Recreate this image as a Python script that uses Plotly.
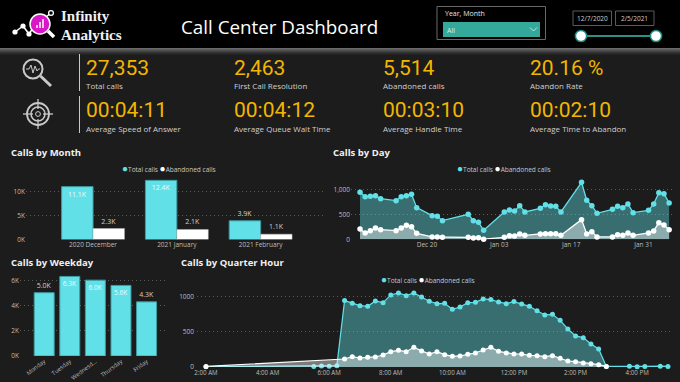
import plotly.graph_objects as go

W, H = 680, 382
FONT = "Open Sans"
CYAN = "#62E0E8"
WHITE = "#FFFFFF"
BG = "#1C1C1C"
YEL = "#F2B600"
TICK = "#BDBDBD"
GRID = "#5A5A5A"

# ---- data ----
kpi_values = ["27,353", "2,463", "5,514", "20.16 %", "00:04:11", "00:04:12", "00:03:10", "00:02:10"]
kpi_labels = ["Total calls", "First Call Resolution", "Abandoned calls", "Abandon Rate",
              "Average Speed of Answer", "Average Queue Wait Time", "Average Handle Time", "Average Time to Abandon"]

months = ["2020 December", "2021 January", "2021 February"]
month_total = [11060, 12380, 3913]
month_aband = [2300, 2100, 1114]
month_total_lbl = ["11.1K", "12.4K", "3.9K"]
month_aband_lbl = ["2.3K", "2.1K", "1.1K"]

weekdays = ["Monday", "Tuesday", "Wednesd...", "Thursday", "Friday"]
weekday_total = [5040, 6340, 6040, 5620, 4310]
weekday_lbl = ["5.0K", "6.3K", "6.0K", "5.6K", "4.3K"]

days = ["2020-12-07", "2020-12-08", "2020-12-09", "2020-12-10", "2020-12-11",
        "2020-12-14", "2020-12-15", "2020-12-16", "2020-12-17", "2020-12-18",
        "2020-12-21", "2020-12-22", "2020-12-23",
        "2020-12-28", "2020-12-29", "2020-12-30", "2020-12-31",
        "2021-01-04", "2021-01-05", "2021-01-06", "2021-01-07", "2021-01-08",
        "2021-01-11", "2021-01-12", "2021-01-13", "2021-01-14", "2021-01-15",
        "2021-01-19", "2021-01-20", "2021-01-21", "2021-01-22",
        "2021-01-25", "2021-01-26", "2021-01-27", "2021-01-28", "2021-01-29",
        "2021-02-01", "2021-02-02", "2021-02-03", "2021-02-04", "2021-02-05"]
day_total = [940, 853, 860, 873, 813, 773, 853, 873, 900, 633, 473, 460, 373,
             500, 373, 340, 180, 547, 587, 567, 673, 547, 620, 693, 667, 660, 547,
             1140, 780, 673, 520, 600, 660, 633, 707, 533, 580, 707, 933, 913, 727]
day_aband = [207, 127, 173, 227, 193, 173, 227, 280, 253, 120, 47, 47, 40,
             40, 27, 33, 3, 40, 73, 67, 107, 80, 107, 113, 113, 113, 80,
             393, 107, 153, 47, 47, 93, 80, 127, 80, 127, 167, 333, 287, 193]
day_ticks = ["2020-12-20", "2021-01-03", "2021-01-17", "2021-01-31"]
day_ticktext = ["Dec 20", "Jan 03", "Jan 17", "Jan 31"]

q_total_t = ["02:00", "05:30", "05:45", "06:00", "06:15", "06:30", "06:45", "07:00", "07:15", "07:30", "07:45",
             "08:00", "08:15", "08:30", "08:45", "09:00", "09:15", "09:30", "09:45", "10:00", "10:15", "10:30",
             "10:45", "11:00", "11:15", "11:30", "11:45", "12:00", "12:15", "12:30", "12:45", "13:00", "13:15",
             "13:30", "13:45", "14:00", "14:15", "14:30", "14:45", "15:00", "15:45", "16:00", "16:15", "16:45", "17:00"]
q_total = [2, 8, 14, 12, 19, 939, 901, 868, 858, 934, 910,
           1019, 1047, 1009, 1047, 991, 930, 896, 901, 816, 849, 910,
           915, 962, 953, 920, 896, 925, 892, 858, 797, 736, 745,
           660, 538, 439, 415, 325, 255, 8, 10, 5, 8, 12, 8]
q_aband_t = ["02:00", "06:30", "06:45", "07:00", "07:15", "07:30", "07:45",
             "08:00", "08:15", "08:30", "08:45", "09:00", "09:15", "09:30", "09:45", "10:00", "10:15", "10:30",
             "10:45", "11:00", "11:15", "11:30", "11:45", "12:00", "12:15", "12:30", "12:45", "13:00", "13:15",
             "13:30", "13:45", "14:00", "14:15", "14:30", "14:45", "15:00"]
q_aband = [8, 113, 146, 127, 137, 142, 170,
           217, 236, 217, 278, 226, 184, 217, 175, 151, 156, 179,
           198, 241, 278, 222, 198, 184, 184, 165, 160, 146, 160,
           123, 85, 75, 57, 47, 33, 8]
q_ticks = ["02:00", "04:00", "06:00", "08:00", "10:00", "12:00", "14:00", "16:00"]
q_ticktext = ["2:00 AM", "4:00 AM", "6:00 AM", "8:00 AM", "10:00 AM", "12:00 PM", "2:00 PM", "4:00 PM"]
DAY0 = "2021-01-01 "


def X(p): return p / W
def Y(p): return 1 - p / H
def dx(a, b): return [a / W, b / W]
def dy(top, bottom): return [1 - bottom / H, 1 - top / H]


shapes, annos = [], []


def rect(x0, y0, x1, y1, fill=None, line=None, lw=1, layer="below"):
    shapes.append(dict(type="rect", xref="paper", yref="paper", x0=X(x0), x1=X(x1), y0=Y(y0), y1=Y(y1),
                       fillcolor=fill, line=dict(color=line, width=lw if line else 0), layer=layer))


def seg(x0, y0, x1, y1, color, lw=1, layer="above"):
    shapes.append(dict(type="line", xref="paper", yref="paper", x0=X(x0), x1=X(x1), y0=Y(y0), y1=Y(y1),
                       line=dict(color=color, width=lw), layer=layer))


def circ(cx, cy, r, fill=None, line=None, lw=1, layer="above"):
    shapes.append(dict(type="circle", xref="paper", yref="paper", x0=X(cx - r), x1=X(cx + r), y0=Y(cy + r), y1=Y(cy - r),
                       fillcolor=fill, line=dict(color=line, width=lw if line else 0), layer=layer))


def text(x, y, s, size, color, family=FONT, anchor="left", bold=False):
    annos.append(dict(xref="paper", yref="paper", x=X(x), y=Y(y), text=f"<b>{s}</b>" if bold else s,
                      showarrow=False, xanchor=anchor, yanchor="middle",
                      font=dict(size=size, color=color, family=family), borderpad=0, borderwidth=0))


# page chrome
rect(0, 0, W, H, fill=BG)
rect(0, 0, W, 48, fill="#000000")
for i, c in enumerate(["#6A6A6A", "#5C5C5C", "#4E4E4E", "#404040", "#343434", "#2A2A2A", "#232323"]):
    rect(0, 48 + i, W, 49 + i, fill=c)

# logo
seg(15, 32, 23, 26, WHITE, 1.5); seg(23, 26, 29, 34, WHITE, 1.5); seg(29, 34, 33, 28, WHITE, 1.5)
seg(46, 17, 51, 13, WHITE, 1.5)
for cx, cy in [(15, 32), (23, 26), (29, 34)]:
    circ(cx, cy, 2.6, fill=WHITE)
circ(51, 13, 2.4, fill="#000000", line=WHITE, lw=1.3)
seg(48, 31, 54, 37, WHITE, 3.5)
circ(40, 24, 10, fill="#D916C8", line=WHITE, lw=1.5)
rect(36, 25, 38, 28, fill="#F4C7E8", layer="above")
rect(39, 22, 41, 28, fill="#F4C7E8", layer="above")
rect(42, 19, 44, 28, fill="#F4C7E8", layer="above")
text(61, 16, "Infinity", 15, "#F0F0F0", family="Liberation Serif", bold=True)
text(61, 34, "Analytics", 15.2, "#F0F0F0", family="Liberation Serif", bold=True)
text(181, 27, "Call Center Dashboard", 18.8, "#FFFFFF")

# slicer
rect(437, 6.5, 545.5, 39.5, line="#6A6A6A", lw=1)
text(445, 14, "Year, Month", 7, "#E6E6E6", bold=False)
rect(443, 22, 540, 37, fill="#33A89B")
text(447, 30.5, "All", 7, "#D8EEEB")
seg(530, 27.5, 533.5, 31, "#E6F5F3", 0.8); seg(533.5, 31, 537, 27.5, "#E6F5F3", 0.8)
rect(573, 11, 611.5, 25.5, line="#5A5A5A", lw=1)
rect(615.5, 11, 654, 25.5, line="#5A5A5A", lw=1)
text(592.5, 18.5, "12/7/2020", 6.5, "#CFCFCF", anchor="center")
text(634.5, 18.5, "2/5/2021", 6.5, "#CFCFCF", anchor="center")
seg(581, 36, 656, 36, "#2E8F86", 2)
circ(581, 36, 5.6, fill="#FFFFFF", line="#1E8C82", lw=1.5)
circ(656, 36, 5.6, fill="#FFFFFF", line="#1E8C82", lw=1.5)

# KPI icons
IC = "#C9C9C9"
seg(79.5, 54, 79.5, 91, "#C8C8C8", 1)
seg(79.5, 96, 79.5, 133, "#C8C8C8", 1)
circ(33, 69, 9.5, line=IC, lw=2)
seg(40.5, 76, 51, 86, IC, 3)
shapes.append(dict(type="path", xref="paper", yref="paper", layer="above", line=dict(color=IC, width=1),
                   path="M " + " L ".join(f"{X(a):.5f},{Y(b):.5f}" for a, b in
                                          [(26, 69), (29, 69), (31, 65), (33, 73), (35, 66), (37, 71), (38.5, 69), (40, 69)])))
circ(38, 114, 11, line=IC, lw=1.8)
circ(38, 114, 7, line=IC, lw=1.5)
circ(38, 114, 2.4, line=IC, lw=1)
seg(38, 99, 38, 109, IC, 1.3); seg(38, 119, 38, 129, IC, 1.3)
seg(23, 114, 33, 114, IC, 1.3); seg(43, 114, 53, 114, IC, 1.3)

# KPI text
kx = [86, 234, 382.5, 529.5]
for i, (v, l) in enumerate(zip(kpi_values, kpi_labels)):
    r, c = i // 4, i % 4
    text(kx[c], 67.5 + 42.5 * r, v, 21, YEL, family="Roboto")
    text(kx[c], 86 + 42.3 * r, l, 8, "#D0D0D0")

# section titles
text(11, 152, "Calls by Month", 9.5, "#F0F0F0", bold=True)
text(333, 152, "Calls by Day", 9.5, "#F0F0F0", bold=True)
text(11, 262, "Calls by Weekday", 9.5, "#F0F0F0", bold=True)
text(181, 262, "Calls by Quarter Hour", 9.5, "#F0F0F0", bold=True)

# legends
def legend(x, y):
    annos.append(dict(xref="paper", yref="paper", x=X(x), y=Y(y), showarrow=False, xanchor="center", yanchor="middle",
                      text=f"<span style='color:{CYAN};font-size:10px'>●</span>Total calls <span style='color:#fff;font-size:10px'>●</span>Abandoned calls",
                      font=dict(size=6.5, color="#C8C8C8", family=FONT)))


legend(169, 168)
legend(504, 168)
legend(428, 278.5)

LBL = 7
fig = go.Figure()
# month
fig.add_bar(x=months, y=month_total, text=month_total_lbl, name="Total calls", xaxis="x", yaxis="y",
            marker=dict(color=CYAN, line=dict(color="#3E9CA2", width=1)),
            textposition=["inside", "inside", "outside"], insidetextanchor="end", cliponaxis=False,
            textfont=dict(size=LBL, family=FONT, color=["#EAFBFC", "#EAFBFC", "#D0D0D0"]), textangle=0)
fig.add_bar(x=months, y=month_aband, text=month_aband_lbl, name="Abandoned calls", xaxis="x", yaxis="y",
            marker=dict(color=WHITE, line=dict(color="#B8B8B8", width=0.5)),
            textposition="outside", cliponaxis=False,
            textfont=dict(size=LBL, family=FONT, color="#D0D0D0"), textangle=0)
# weekday
fig.add_bar(x=weekdays, y=weekday_total, text=weekday_lbl, name="Total calls", xaxis="x2", yaxis="y2", width=0.78,
            marker=dict(color=CYAN, line=dict(color="#3E9CA2", width=1)),
            textposition=["outside", "inside", "inside", "inside", "outside"], insidetextanchor="end", cliponaxis=False,
            textfont=dict(size=LBL, family=FONT, color=["#D0D0D0", "#EAFBFC", "#EAFBFC", "#EAFBFC", "#D0D0D0"]), textangle=0)
# day
FILL_T = "rgba(98,224,232,0.42)"
FILL_A = "rgba(255,255,255,0.42)"
fig.add_scatter(x=days, y=day_total, mode="lines+markers", fill="tozeroy", fillcolor=FILL_T, name="Total calls",
                xaxis="x3", yaxis="y3", cliponaxis=False,
                line=dict(color=CYAN, width=1.3), marker=dict(color=CYAN, size=5.5))
fig.add_scatter(x=days, y=day_aband, mode="lines+markers", fill="tozeroy", fillcolor=FILL_A, name="Abandoned calls",
                xaxis="x3", yaxis="y3", cliponaxis=False,
                line=dict(color=WHITE, width=1.3), marker=dict(color=WHITE, size=5.5))
# quarter hour
fig.add_scatter(x=[DAY0 + t for t in q_total_t], y=q_total, mode="lines+markers", fill="tozeroy", fillcolor=FILL_T,
                name="Total calls", xaxis="x4", yaxis="y4", cliponaxis=False,
                line=dict(color=CYAN, width=1.2), marker=dict(color=CYAN, size=5))
fig.add_scatter(x=[DAY0 + t for t in q_aband_t], y=q_aband, mode="lines+markers", fill="tozeroy", fillcolor=FILL_A,
                name="Abandoned calls", xaxis="x4", yaxis="y4", cliponaxis=False,
                line=dict(color=WHITE, width=1.2), marker=dict(color=WHITE, size=5))

tick = dict(size=6.5, color=TICK, family=FONT)
yax = dict(showgrid=True, griddash="1px,3px", gridcolor=GRID, gridwidth=1, zeroline=False, showline=False,
           ticks="", tickfont=tick, fixedrange=True, automargin=False)
xax = dict(showgrid=False, zeroline=False, showline=False, ticks="", tickfont=tick, fixedrange=True, automargin=False)

fig.update_layout(
    width=W, height=H, margin=dict(l=0, r=0, t=0, b=0, pad=0), autosize=False,
    paper_bgcolor=BG, plot_bgcolor="rgba(0,0,0,0)", showlegend=False, barmode="group", bargap=0.25, bargroupgap=0,
    font=dict(family=FONT), shapes=shapes, annotations=annos,
    xaxis=dict(xax, domain=dx(26, 326), range=[-0.8, 2.78], anchor="y", type="category"),
    yaxis=dict(yax, domain=dy(178, 239.5), range=[0, 12870], anchor="x", tickvals=[0, 5000, 10000],
               ticktext=["0K", "5K", "10K"]),
    xaxis2=dict(xax, domain=dx(20, 165), range=[-0.945, 4.72], anchor="y2", type="category", tickangle=-37,
                tickfont=dict(tick, size=5.8)),
    yaxis2=dict(yax, domain=dy(275.5, 356), range=[0, 6410], anchor="x2", tickvals=[0, 2000, 4000, 6000],
                ticktext=["0K", "2K", "4K", "6K"]),
    xaxis3=dict(xax, domain=dx(351, 673), range=["2020-12-05 06:00", "2021-02-05 18:00"], anchor="y3", type="date",
                tickvals=day_ticks, ticktext=day_ticktext),
    yaxis3=dict(yax, domain=dy(180, 239.3), range=[0, 1186], anchor="x3", tickvals=[0, 500, 1000],
                ticktext=["0", "500", "1,000"]),
    xaxis4=dict(xax, domain=dx(197, 670), range=[DAY0 + "01:42:30", DAY0 + "17:04"], anchor="y4", type="date",
                tickvals=[DAY0 + t for t in q_ticks], ticktext=q_ticktext, ticklabelstandoff=1,
                tickfont=dict(tick, size=6.2)),
    yaxis4=dict(yax, domain=dy(290, 367), range=[0, 1089], anchor="x4", tickvals=[0, 500, 1000],
                ticktext=["0", "500", "1000"], ticklabelstandoff=2),
)

fig.write_html("out.html", config=dict(displayModeBar=False),
               post_script="document.body.style.margin='0';document.body.style.overflow='hidden';")
